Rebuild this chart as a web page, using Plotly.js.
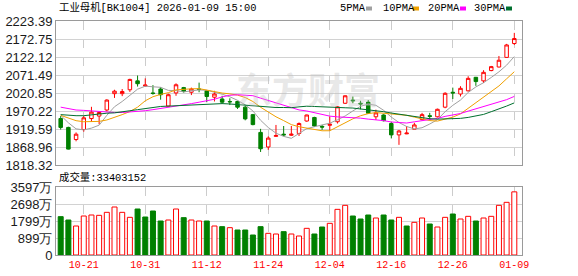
<!DOCTYPE html>
<html>
<head>
<meta charset="utf-8">
<script src="https://cdn.plot.ly/plotly-3.0.1.min.js"></script>
<style>
  html, body { margin: 0; padding: 0; background: #ffffff; }
  #chart { width: 578px; height: 276px; }
</style>
</head>
<body>
<div id="chart"></div>
<script>
// 工业母机 [BK1004] daily K-line, 2025-10-16 .. 2026-01-09
const dates = [
  '10-16','10-17','10-20','10-21','10-22','10-23','10-24','10-27','10-28','10-29',
  '10-30','10-31','11-03','11-04','11-05','11-06','11-07','11-10','11-11','11-12',
  '11-13','11-14','11-17','11-18','11-19','11-20','11-21','11-24','11-25','11-26',
  '11-27','11-28','12-01','12-02','12-03','12-04','12-05','12-08','12-09','12-10',
  '12-11','12-12','12-15','12-16','12-17','12-18','12-19','12-22','12-23','12-24',
  '12-25','12-26','12-29','12-30','12-31','01-05','01-06','01-07','01-08','01-09'
];
const open = [
  1949,1924,1890,1918,1949,1956,1973,2019,2019,2030,
  2055,2040.5,2021,2032,1984,2021,2036,2023,2032,2027,
  2009,2004,1997,1997,1981,1960,1910,1869,1899,1905,
  1902,1907,1942,1952,1927,1930,1940,1992,2001,1992,
  1995,1954,1959,1935,1903,1906,1919,1946,1957,1954,
  1981,2023,2018,2027,2065,2055,2084,2094,2121,2160
];
const high = [
  1956,1926,1910,1956,1982,1968,2003,2030,2032,2061,
  2070,2062,2043,2037,2019,2048,2038,2036,2050,2029,
  2027,2013,2006,1999,1985,1962,1920,1899,1931,1928,
  1928,1938,1960,1954,1931,1955,1984,2014,2011,1999,
  2001,1974,1961,1940,1917,1928,1937,1965,1965,1977,
  2023,2036,2040,2068,2066,2085,2097,2125,2159,2190
];
const low = [
  1918,1862,1885,1912,1940,1933,1969,2007,2012,2024,
  2039,2039,2016,2002,1982,2013,2022,2015,2023,1995,
  1997,1990,1987,1976,1944,1930,1855,1861,1898,1899,
  1900,1900,1940,1926,1917,1915,1935,1990,1992,1975,
  1962,1945,1941,1893,1875,1905,1918,1944,1944,1952,
  1978,2004,2011,2025,2041,2049,2082,2093,2120,2156
];
const close = [
  1924,1863,1905,1951,1967,1966,2001,2026,2025,2059,
  2047,2043,2019.5,2016,2016,2044,2025,2032,2031,2011,
  2018,1995,1996,1981,1948,1932,1864,1894,1901,1903,
  1905,1935,1959,1928,1925,1933,1982,2013,1999,1990,
  1964,1965,1943,1903,1914,1908,1931,1960,1955,1975,
  2020,2021,2034,2062,2053,2079,2095,2113,2156,2174
];
// volume, 万股
const volume = [
  2028,1851,1534,2063,2116,2098,2257,2539,2257,1992,
  2433,2010,2327,1798,1851,2433,1975,1851,1798,1798,
  1534,1499,1446,1322,1322,1058,1499,1146,1111,1234,
  1111,1005,1410,1111,1481,1675,2415,2627,2063,1904,
  2116,1957,2116,1851,1992,1534,1728,1957,1640,1481,
  1992,2168,1904,2045,1798,1957,2045,2627,2786,3340.3152
];
// direction flag of each volume bar: 'u' rise, 'd' fall
const volSide = [
  'd','d','u','u','u','u','u','u','u','u',
  'd','d','d','d','u','u','d','u','u','d',
  'u','d','u','d','d','d','d','u','u','d',
  'u','u','u','d','d','u','u','u','d','d',
  'd','u','d','d','u','d','u','u','d','u',
  'u','d','u','u','d','u','u','u','u','u'
];
const ma5 = [
  1958,1937,1920,1917,1922.0,1930.4,1958.0,1982.2,1997.0,2015.4,
  2031.6,2040.0,2038.6,2036.8,2028.2,2027.6,2024.0,2026.6,2029.6,2028.6,
  2023.4,2017.4,2010.2,2000.2,1987.6,1970.4,1944.2,1923.8,1907.8,1898.8,
  1893.4,1907.6,1920.6,1926.0,1930.4,1936.0,1945.4,1956.2,1970.4,1983.4,
  1989.6,1986.2,1972.2,1953.0,1937.8,1926.6,1919.8,1923.2,1933.6,1945.8,
  1968.2,1986.2,2001.0,2022.4,2038.0,2049.8,2064.6,2080.4,2099.2,2123.4
];
const ma10 = [
  1958,1950,1943,1940,1940,1941,1945,1952,1960,1968.7,
  1981.0,1999.0,2010.4,2016.9,2021.8,2029.6,2032.0,2032.6,2033.2,2028.4,
  2025.5,2020.7,2018.4,2014.9,2008.1,1996.9,1980.8,1967.0,1954.0,1943.2,
  1931.9,1925.9,1922.2,1916.9,1914.6,1914.7,1926.5,1938.4,1948.2,1956.9,
  1962.8,1965.8,1964.2,1961.7,1960.6,1958.1,1953.0,1947.7,1943.3,1941.8,
  1947.4,1953.0,1962.1,1978.0,1991.9,2009.0,2025.4,2040.7,2060.8,2080.7
];
const ma20 = [
  1981,1976,1973,1972,1970,1968,1967,1966,1966,1967,
  1968,1971,1974,1977,1980,1984,1988,1991,1995,1998.6,
  2003.3,2009.9,2014.4,2015.9,2015.0,2013.3,2006.4,1999.8,1993.6,1985.8,
  1978.7,1973.3,1970.3,1965.9,1961.4,1955.8,1953.7,1952.7,1951.1,1950.1,
  1947.4,1945.9,1943.2,1939.3,1937.6,1936.4,1939.8,1943.1,1945.8,1949.4,
  1955.1,1959.4,1963.2,1969.9,1976.3,1983.6,1989.2,1994.2,2002.1,2011.3
];
const ma30 = [
  1960,1958,1957,1957,1960,1963,1964,1965,1967,1971,
  1974,1977,1981,1983,1984,1985,1986,1987,1988,1990,
  1991,1991,1990,1988,1986,1984,1982,1981,1980,1980.1,
  1979.5,1981.9,1983.7,1982.9,1981.5,1980.4,1979.8,1979.3,1978.5,1976.2,
  1973.4,1970.8,1968.3,1964.5,1961.1,1956.6,1953.4,1951.0,1948.5,1947.3,
  1947.4,1948.2,1949.5,1952.2,1955.7,1960.6,1968.3,1975.6,1984.1,1993.1
];
const priceTicks = ['1818.32','1868.96','1919.59','1970.22','2020.85','2071.49','2122.12','2172.75','2223.39'];
const volTicks = ['0','899万','1799万','2698万','3597万'];
const volMax = 3597;
const dateTicks = ['10-21','10-31','11-12','11-24','12-04','12-16','12-26','01-09'];
const maNames = ['5PMA','10PMA','20PMA','30PMA'];

const RED = '#ff0000', GREEN = '#008000';
const maColors = ['#a0a0a0', '#f0a000', '#ff00ff', '#006f2e'];
const monoFont = 'Liberation Mono, Noto Sans CJK SC, monospace';

const traces = [
  {
    type: 'candlestick', x: dates, open: open, high: high, low: low, close: close,
    xaxis: 'x', yaxis: 'y', whiskerwidth: 0, showlegend: false, hoverinfo: 'skip',
    increasing: { line: { color: RED, width: 1 }, fillcolor: '#ffffff' },
    decreasing: { line: { color: GREEN, width: 1 }, fillcolor: GREEN }
  }
];
[ma5, ma10, ma20, ma30].forEach((s, k) => {
  traces.push({
    type: 'scatter', mode: 'lines', x: dates, y: s, name: maNames[k],
    xaxis: 'x', yaxis: 'y', showlegend: false, hoverinfo: 'skip',
    line: { color: maColors[k], width: 1 }
  });
});
traces.push({
  type: 'bar', x: dates, y: volume, xaxis: 'x2', yaxis: 'y2',
  showlegend: false, hoverinfo: 'skip',
  marker: {
    color: volSide.map(s => s === 'u' ? '#ffffff' : GREEN),
    line: { color: volSide.map(s => s === 'u' ? RED : GREEN), width: 1 }
  }
});

const W = 578, H = 276, L = 56, R = 522, T = 21, B = 255;
const px = x => (x - L) / (R - L);
const py = y => (B - y) / (B - T);

const xRange = [-0.61, 60.0];
const axisBase = {
  showline: true, mirror: true, linecolor: '#9a9a9a', linewidth: 1,
  zeroline: false, fixedrange: true
};
const yTickFont = { family: 'Liberation Sans, Arial, sans-serif', size: 13, color: '#1a1a1a' };

const annotations = [
  {
    xref: 'paper', yref: 'paper', x: px(57), y: py(8), xanchor: 'left', yanchor: 'middle',
    text: '工业母机[BK1004] 2026-01-09 15:00', showarrow: false,
    font: { family: monoFont, size: 10.4, color: '#000000' }
  },
  {
    xref: 'paper', yref: 'paper', x: px(57), y: py(177), xanchor: 'left', yanchor: 'middle',
    text: '成交量:' + Math.round(volume[volume.length - 1] * 10000), showarrow: false,
    font: { family: monoFont, size: 10.4, color: '#000000' }
  },
  {
    xref: 'paper', yref: 'paper', x: px(308), y: py(88), xanchor: 'center', yanchor: 'middle',
    text: '东方财富', showarrow: false,
    font: { family: 'Noto Sans CJK SC', size: 36, weight: 700, color: 'rgba(190,190,190,0.35)' }
  }
];

// legend: name followed by a small colour swatch
const legendX = [338, 381, 426, 472];
const swatchX = [366, 413, 460, 506];
const shapes = [];
maNames.forEach((n, k) => {
  annotations.push({
    xref: 'paper', yref: 'paper', x: px(legendX[k]), y: py(8), xanchor: 'left', yanchor: 'middle',
    showarrow: false, text: n,
    font: { family: monoFont, size: 10.4, color: '#000000' }
  });
  shapes.push({
    type: 'rect', xref: 'paper', yref: 'paper',
    x0: px(swatchX[k]), x1: px(swatchX[k] + 6), y0: py(10.5), y1: py(6.5),
    fillcolor: maColors[k], line: { width: 0 }
  });
});

const layout = {
  width: W, height: H,
  margin: { l: L, r: W - R, t: T, b: H - B, pad: 0 },
  paper_bgcolor: '#ffffff', plot_bgcolor: '#ffffff',
  showlegend: false, hovermode: false, dragmode: false,
  boxgap: 0.35, bargap: 0.35,
  xaxis: Object.assign({}, axisBase, {
    type: 'category', anchor: 'y', range: xRange, rangeslider: { visible: false },
    tickvals: dateTicks, showticklabels: false, ticks: '',
    showgrid: true, gridcolor: '#cccccc', griddash: 'dash', gridwidth: 1
  }),
  xaxis2: Object.assign({}, axisBase, {
    type: 'category', anchor: 'y2', range: xRange,
    tickvals: dateTicks, ticktext: dateTicks, ticks: '',
    showgrid: true, gridcolor: '#cccccc', griddash: 'dash', gridwidth: 1,
    tickfont: { family: 'Liberation Mono, monospace', size: 10, color: RED }
  }),
  yaxis: Object.assign({}, axisBase, {
    domain: [py(165), 1], range: [Number(priceTicks[0]), Number(priceTicks[priceTicks.length - 1])],
    tickvals: priceTicks.map(Number), ticktext: priceTicks, ticks: '',
    showgrid: true, gridcolor: '#d2d2d2', tickfont: yTickFont
  }),
  yaxis2: Object.assign({}, axisBase, {
    domain: [0, py(187)], range: [0, volMax],
    tickvals: volTicks.map((t, i) => volMax * i / (volTicks.length - 1)), ticktext: volTicks,
    ticks: '', showgrid: true, gridcolor: '#d2d2d2', tickfont: yTickFont
  }),
  annotations: annotations,
  shapes: shapes
};

Plotly.newPlot('chart', traces, layout, { staticPlot: true, displayModeBar: false });
</script>
</body>
</html>
